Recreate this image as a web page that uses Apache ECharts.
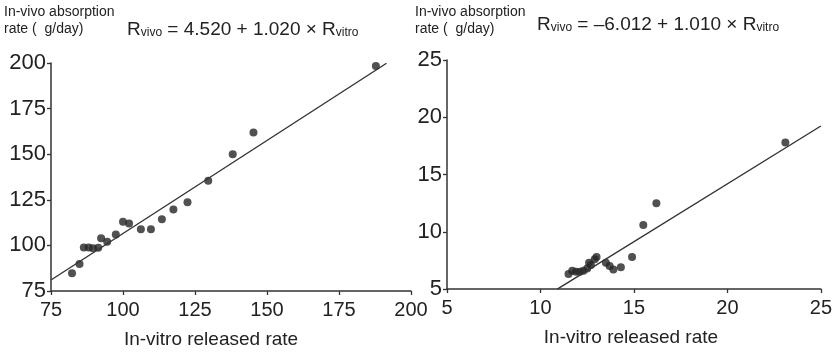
<!DOCTYPE html>
<html>
<head>
<meta charset="utf-8">
<script src="https://cdn.jsdelivr.net/npm/echarts@6/dist/echarts.min.js"></script>
<style>
  html, body { margin: 0; padding: 0; background: #fff; }
  #chart { width: 835px; height: 354px; }
</style>
</head>
<body>
<div id="chart"></div>
<script>
// Panel A: in-vitro released rate vs in-vivo absorption rate
const vitroA = [82.3, 84.9, 86.4, 88.1, 89.6, 91.4, 92.4, 94.5, 97.5, 100.0, 102.1, 106.2, 109.7, 113.5, 117.5, 122.4, 129.6, 138.1, 145.3, 187.8];
const vivoA  = [84.7, 89.8, 98.9, 98.9, 98.4, 98.7, 103.9, 102.0, 106.0, 112.9, 112.0, 108.9, 108.9, 114.4, 119.7, 123.6, 135.4, 150.0, 161.9, 198.3];
const fitA = { intercept: 4.520, slope: 1.020, from: 75, to: 191.5 };
const ticksAx = [75, 100, 125, 150, 175, 200];
const ticksAy = [75, 100, 125, 150, 175, 200];

// Panel B
const vitroB = [11.5, 11.7, 11.9, 12.1, 12.3, 12.5, 12.6, 12.7, 12.9, 13.0, 13.5, 13.7, 13.9, 14.3, 14.9, 15.5, 16.2, 23.1];
const vivoB  = [6.3, 6.6, 6.5, 6.5, 6.6, 6.8, 7.3, 7.1, 7.6, 7.8, 7.3, 7.0, 6.7, 6.9, 7.8, 10.6, 12.5, 17.8];
const fitB = { intercept: -6.012, slope: 1.010, from: 10.9, to: 25 };
const ticksBx = [5, 10, 15, 20, 25];
const ticksBy = [5, 10, 15, 20, 25];

const yName = 'In-vivo absorption\nrate (  g/day)';
const xName = 'In-vitro released rate';
const eqA = '{r|R}{s|vivo}{r| = 4.520 + 1.020 × R}{s|vitro}';
const eqB = '{r|R}{s|vivo}{r| = \u20136.012 + 1.010 × R}{s|vitro}';

const ink = '#222';
const font = 'Liberation Sans, Arial, Helvetica, sans-serif';

function pairs(xs, ys) { return xs.map((x, i) => [x, ys[i]]); }
function fitLine(f) {
  return [f.from, f.to].map(x => [x, f.intercept + f.slope * x]);
}

function xAxisFor(idx, ticks, namePad) {
  return {
    gridIndex: idx, type: 'value',
    min: ticks[0], max: ticks[ticks.length - 1], interval: ticks[1] - ticks[0],
    name: xName, nameLocation: 'middle', nameGap: 39,
    nameTextStyle: { fontFamily: font, fontSize: 19, color: ink, padding: namePad },
    axisLine: { show: true, lineStyle: { color: '#333', width: 1.5 } },
    axisTick: { show: true, length: 4, lineStyle: { color: '#333', width: 1.3 } },
    axisLabel: { fontFamily: font, fontSize: 20, color: ink, margin: 9 },
    splitLine: { show: false }
  };
}
function yAxisFor(idx, ticks) {
  return {
    gridIndex: idx, type: 'value',
    min: ticks[0], max: ticks[ticks.length - 1], interval: ticks[1] - ticks[0],
    axisLine: { show: true, lineStyle: { color: '#333', width: 1.5 } },
    axisTick: { show: true, length: 4, lineStyle: { color: '#333', width: 1.3 } },
    axisLabel: { fontFamily: font, fontSize: 22, color: ink, margin: 5 },
    splitLine: { show: false }
  };
}
const eqRich = {
  r: { fontFamily: font, fontSize: 19, fontWeight: 'normal', lineHeight: 22, color: ink, verticalAlign: 'bottom' },
  s: { fontFamily: font, fontSize: 12, fontWeight: 'normal', lineHeight: 12, color: ink, verticalAlign: 'bottom' }
};
const nameStyle = { fontFamily: font, fontSize: 14, lineHeight: 17, color: ink, fontWeight: 'normal' };

const chart = echarts.init(document.getElementById('chart'), null, { renderer: 'canvas' });
chart.setOption({
  animation: false,
  backgroundColor: '#fff',
  title: [
    { text: yName, left: 4, top: 4, padding: 0, textStyle: nameStyle },
    { text: yName, left: 415, top: 4, padding: 0, textStyle: nameStyle },
    { text: eqA, left: 127, top: 17, padding: 0, textStyle: { fontWeight: 'normal', rich: eqRich } },
    { text: eqB, left: 537, top: 12, padding: 0, textStyle: { fontWeight: 'normal', rich: eqRich } }
  ],
  grid: [
    { left: 51, top: 63, width: 360, height: 228 },
    { left: 447, top: 60, width: 374, height: 229 }
  ],
  xAxis: [xAxisFor(0, ticksAx, [0, 40, 0, 0]), xAxisFor(1, ticksBx, [0, 6, 0, 0])],
  yAxis: [yAxisFor(0, ticksAy), yAxisFor(1, ticksBy)],
  series: [
    { type: 'line', xAxisIndex: 0, yAxisIndex: 0, data: fitLine(fitA), symbol: 'none',
      lineStyle: { color: '#333', width: 1.4 }, silent: true },
    { type: 'scatter', xAxisIndex: 0, yAxisIndex: 0, data: pairs(vitroA, vivoA),
      symbol: 'circle', symbolSize: 8, itemStyle: { color: '#262626' } },
    { type: 'line', xAxisIndex: 1, yAxisIndex: 1, data: fitLine(fitB), symbol: 'none',
      lineStyle: { color: '#333', width: 1.4 }, silent: true },
    { type: 'scatter', xAxisIndex: 1, yAxisIndex: 1, data: pairs(vitroB, vivoB),
      symbol: 'circle', symbolSize: 8, itemStyle: { color: '#262626' } }
  ]
});
</script>
</body>
</html>
